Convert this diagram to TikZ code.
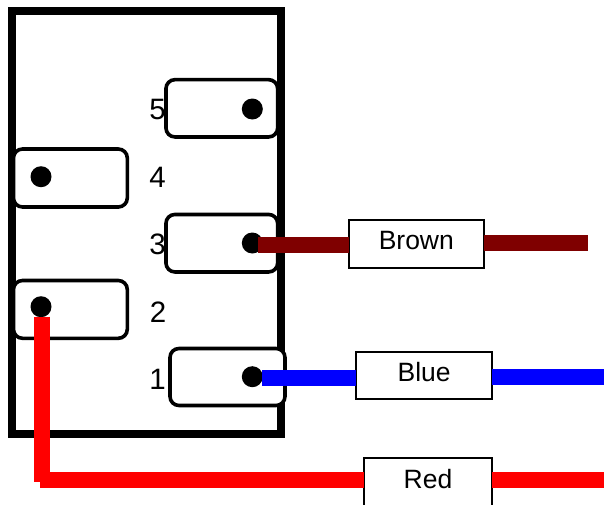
\documentclass[tikz,border=0pt]{standalone}
\usepackage{fontspec}
\setmainfont{Liberation Sans}
\definecolor{wirebrown}{HTML}{7F0000}
\tikzset{
  frameBox/.style={draw=black,line width=8pt,fill=white,rectangle,inner sep=0pt,outer sep=0pt},
  switchBox/.style={draw=black,line width=3.6pt,fill=white,rectangle,rounded corners=9pt,inner sep=0pt,outer sep=0pt},
  contactDot/.style={circle,fill=black,inner sep=0pt,outer sep=0pt,minimum size=21pt},
  pinLabel/.style={inner sep=0pt,font=\fontsize{29.5}{30}\selectfont},
  wireLabel/.style={draw=black,line width=2pt,fill=white,rectangle,inner sep=0pt,outer sep=0pt},
  wireText/.style={inner sep=0pt,font=\fontsize{26.5}{27}\selectfont},
  wire/.style={line width=16pt,line cap=butt},
}
\begin{document}
\begin{tikzpicture}[x=1pt,y=-1pt]
\useasboundingbox (0,0) rectangle (604,504);
\clip (0,0) rectangle (604,504);
\node[frameBox,minimum width=269pt,minimum height=422.7pt] (frame) at (146.7,222.8) {};
\node[pinLabel] (n5) at (157.7,109) {5};
\node[pinLabel] (n4) at (157.7,177) {4};
\node[pinLabel] (n3) at (157.7,244) {3};
\node[pinLabel] (n2) at (158,312) {2};
\node[pinLabel] (n1) at (157.7,379) {1};
\node[switchBox,minimum width=111.7pt,minimum height=57.3pt] (s5) at (221.8,108.3) {};
\node[switchBox,minimum width=113.8pt,minimum height=58pt] (s4) at (70.4,178) {};
\node[switchBox,minimum width=111.7pt,minimum height=57.5pt] (s3) at (221.8,243.2) {};
\node[switchBox,minimum width=113.8pt,minimum height=57.8pt] (s2) at (70.4,309.4) {};
\node[switchBox,minimum width=115pt,minimum height=57pt] (s1) at (227.5,377) {};
\node[contactDot] (d5) at (252.3,109) {};
\node[contactDot] (d4) at (41,176.7) {};
\node[contactDot] (d3) at (252.3,243) {};
\node[contactDot] (d2) at (41,306.7) {};
\node[contactDot] (d1) at (252.3,376.7) {};
\node[wireLabel,minimum width=135.5pt,minimum height=47.5pt] (brown) at (416.3,244.2) {};
\node[wireLabel,minimum width=135.5pt,minimum height=47.5pt] (blue) at (424.2,375.7) {};
\node[wireLabel,minimum width=128.5pt,minimum height=48pt] (red) at (428,482) {};
\coordinate (bs) at (258,245);
\coordinate (be) at (588,243.3);
\coordinate (us) at (262,378);
\coordinate (ue) at (604,377);
\coordinate (rs) at (42.2,316.7);
\coordinate (rb) at (42.2,482);
\coordinate (rc) at (40,480);
\coordinate (re) at (604,480);
\draw[wire,wirebrown] (bs) -- (brown.west |- bs);
\draw[wire,wirebrown] (brown.east |- be) -- (be);
\draw[wire,blue] (us) -- (blue.west |- us);
\draw[wire,blue] (blue.east |- ue) -- (ue);
\draw[wire,red] (rs) -- (rb);
\draw[wire,red] (rc) -- (red.west |- rc);
\draw[wire,red] (red.east |- re) -- (re);
\node[wireText] at (416.3,241) {Brown};
\node[wireText] at (424.2,372) {Blue};
\node[wireText] at (428,479) {Red};
\end{tikzpicture}
\end{document}
